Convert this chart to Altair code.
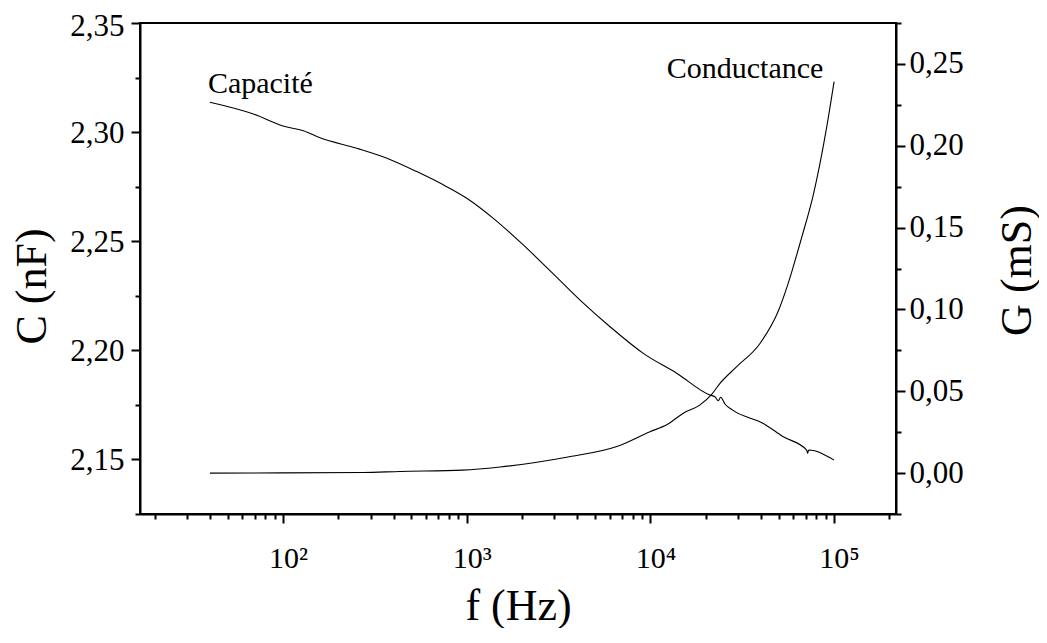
import altair as alt
import pandas as pd

FONT = "Liberation Serif"

# Capacité C (nF) vs frequency (Hz)
cap_freq = [40, 69, 100, 129, 159, 252, 382, 535, 778, 1000, 1396, 2032, 2960, 4140,
            6030, 9150, 13900, 21100, 22470, 23430, 24130, 25470, 28050, 41190,
            52900, 70900, 71800, 72700, 100000]
cap_val = [2.3137, 2.3083, 2.3028, 2.3006, 2.2974, 2.2926, 2.2875, 2.2819, 2.2750,
           2.2697, 2.2605, 2.2483, 2.2350, 2.2230, 2.2108, 2.1986, 2.1895, 2.1795,
           2.1787, 2.1769, 2.1785, 2.1754, 2.1726, 2.1665, 2.1604, 2.1543, 2.1528,
           2.1543, 2.1497]

# Conductance G (mS) vs frequency (Hz)
cond_freq = [40, 100, 272, 434, 950, 1518, 3500, 6560, 9950, 12280, 15100, 18550,
             21560, 23920, 29500, 39500, 49700, 55900, 66630, 77060, 91100, 100000]
cond_val = [0.0000, 0.0001, 0.0004, 0.0010, 0.0018, 0.0037, 0.0097, 0.0162, 0.0253,
            0.0295, 0.0366, 0.0415, 0.0481, 0.0548, 0.0650, 0.0792, 0.0990, 0.1150,
            0.1440, 0.1700, 0.2112, 0.2392]

# annotations
cap_label = ["Capacité"]
cap_label_f = [39]
cap_label_c = [2.3179]
cond_label = ["Conductance"]
cond_label_f = [12270]
cond_label_g = [0.2415]

# axes
x_major = [100, 1000, 10000, 100000]
x_labels = ["10²", "10³", "10⁴", "10⁵"]
x_minor = [20, 30, 40, 50, 60, 70, 80, 90,
           200, 300, 400, 500, 600, 700, 800, 900,
           2000, 3000, 4000, 5000, 6000, 7000, 8000, 9000,
           20000, 30000, 40000, 50000, 60000, 70000, 80000, 90000, 200000]
c_ticks = [2.125, 2.15, 2.175, 2.2, 2.225, 2.25, 2.275, 2.3, 2.325, 2.35]
g_ticks = [-0.025, 0.0, 0.025, 0.05, 0.075, 0.1, 0.125, 0.15, 0.175, 0.2, 0.225, 0.25, 0.275]

x_ticks = sorted(x_minor + x_major)
x_major_test = " || ".join(f"datum.value == {v}" for v in x_major)
x_label_expr = " : ".join(f"datum.value == {v} ? '{l}'" for v, l in zip(x_major, x_labels)) + " : ''"
y_major_test = "abs(datum.value * 20 - round(datum.value * 20)) < 0.01"
y_label_expr = f"({y_major_test}) ? replace(format(datum.value, '.2f'), '.', ',') : ''"

common = dict(
    labelFont=FONT, labelColor="black", labelOverlap=False, labelFlush=False,
    tickWidth=2, tickColor="black", domainColor="black", domainWidth=2, grid=False,
    titleFont=FONT, titleFontWeight="normal", titleColor="black",
)

x_axis = alt.Axis(
    values=x_ticks, labelExpr=x_label_expr,
    tickSize={"condition": {"test": x_major_test, "value": 9}, "value": 5},
    labelFontSize=30, labelPadding=20, labelOffset=5,
    title="f (Hz)", titleFontSize=44, titleX=378, titleY=105,
    titleAlign="center", titleBaseline="alphabetic", **common)

c_axis = alt.Axis(
    values=c_ticks, labelExpr=y_label_expr, orient="left",
    tickSize={"condition": {"test": y_major_test, "value": 9}, "value": 5},
    labelFontSize=31, labelPadding=7,
    labelOffset={"condition": {"test": "datum.value > 2.34", "value": 3}, "value": 1},
    title="C (nF)", titleFontSize=44, titleAngle=270, titleX=-95, titleY=263,
    titleAlign="center", titleBaseline="alphabetic", **common)

g_axis = alt.Axis(
    values=g_ticks, labelExpr=y_label_expr, orient="right",
    tickSize={"condition": {"test": y_major_test, "value": 9}, "value": 5},
    labelFontSize=31, labelPadding=4,
    title="G (mS)", titleFontSize=44, titleAngle=270, titleX=134, titleY=247,
    titleAlign="center", titleBaseline="alphabetic", **common)

x_scale = alt.Scale(type="log", domain=[16.65, 217300], nice=False)
c_scale = alt.Scale(domain=[2.125, 2.35], nice=False, zero=False)
g_scale = alt.Scale(domain=[-0.025, 0.275], nice=False, zero=False)

X = alt.X("f:Q", scale=x_scale, axis=x_axis)
YC = alt.Y("v:Q", scale=c_scale, axis=c_axis)
YG = alt.Y("v:Q", scale=g_scale, axis=g_axis)

df_c = pd.DataFrame({"f": cap_freq, "v": cap_val})
df_g = pd.DataFrame({"f": cond_freq, "v": cond_val})
df_ct = pd.DataFrame({"f": cap_label_f, "v": cap_label_c, "t": cap_label})
df_gt = pd.DataFrame({"f": cond_label_f, "v": cond_label_g, "t": cond_label})

c_line = alt.Chart(df_c).mark_line(color="black", strokeWidth=1.1, interpolate="monotone").encode(x=X, y=YC)
c_text = alt.Chart(df_ct).mark_text(align="left", baseline="alphabetic", font=FONT,
                                    fontSize=30, color="black").encode(x=X, y=YC, text="t:N")
g_line = alt.Chart(df_g).mark_line(color="black", strokeWidth=1.1, interpolate="monotone").encode(x=X, y=YG)
g_text = alt.Chart(df_gt).mark_text(align="left", baseline="alphabetic", font=FONT,
                                    fontSize=30, color="black").encode(x=X, y=YG, text="t:N")

chart = alt.layer(
    alt.layer(c_line, c_text),
    alt.layer(g_line, g_text),
).resolve_scale(y="independent").properties(
    width=756, height=491,
    padding={"left": 132, "top": 15, "right": 143, "bottom": 114},
    autosize=alt.AutoSizeParams(type="none"),
    background="white",
).configure_view(stroke="black", strokeWidth=2)

chart.save("out.html", embed_options={"renderer": "svg", "actions": False})
